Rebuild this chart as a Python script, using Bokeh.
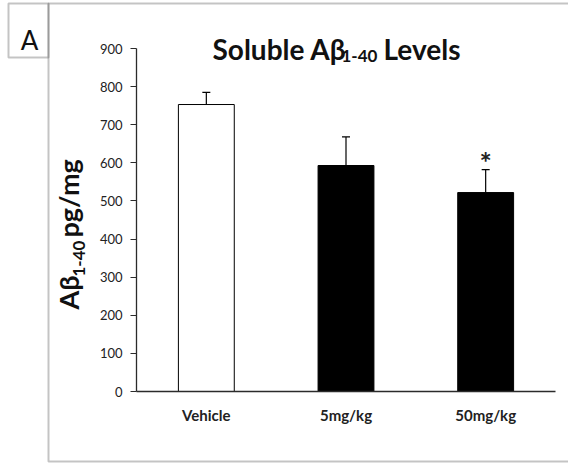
import math
from bokeh.plotting import figure
from bokeh.models import (ColumnDataSource, Whisker, Label, PolyAnnotation,
                          FixedTicker, Range1d)
from bokeh.embed import file_html
from bokeh.resources import INLINE

# --- data -------------------------------------------------------------
groups = ["Vehicle", "5mg/kg", "50mg/kg"]
means = [753, 593, 522]
sem = [32, 75, 60]
fills = ["white", "black", "black"]
y_ticks = [0, 100, 200, 300, 400, 500, 600, 700, 800, 900]
significant = ["50mg/kg"]

W, H = 568, 463
# canvas pixels of the plotting area (axes drawn at fixed locations)
AX_L, AX_R, AX_T, AX_B = 136, 555, 48, 391
YMAX = 900

ppx = (AX_R - AX_L) / len(groups)       # pixels per group slot
ppy = (AX_B - AX_T) / YMAX              # pixels per unit

x_range = Range1d(-AX_L / ppx, (W - AX_L) / ppx)
y_range = Range1d(-(H - AX_B) / ppy, YMAX + AX_T / ppy)

p = figure(width=W, height=H, x_range=x_range, y_range=y_range,
           output_backend="svg", toolbar_location=None,
           min_border=0, min_border_left=0, min_border_right=0,
           min_border_top=0, min_border_bottom=0)
p.outline_line_color = None
p.xgrid.visible = False
p.ygrid.visible = False
p.background_fill_color = "white"
p.border_fill_color = "white"

FONT = "Lato"
AX = "#2b2b2b"

def dx(px):
    return (px - AX_L) / ppx
def dy(py):
    return (AX_B - py) / ppy

xs = [i + 0.5 for i in range(len(groups))]
src = ColumnDataSource(dict(x=xs, m=means, up=[a + b for a, b in zip(means, sem)],
                            fill=fills))

p.vbar(x="x", top="m", bottom=0, width=0.4, source=src, fill_color="fill",
       line_color="black", line_width=1)

wh = Whisker(base="x", upper="up", lower="m", source=src, line_color="black",
             line_width=1.2, lower_head=None)
wh.upper_head.size = 8
wh.upper_head.line_color = "black"
wh.upper_head.line_width = 1.2
p.add_layout(wh)

for g, x, u in zip(groups, xs, src.data["up"]):
    if g in significant:
        p.add_layout(Label(x=x, y=u, text="*", text_font=FONT,
                           text_font_style="bold", text_font_size="29px",
                           text_align="center", text_baseline="bottom",
                           y_offset=-9, text_color="#222"))

# axes, pinned at the origin
p.yaxis.fixed_location = 0
p.yaxis.bounds = (0, YMAX)
p.yaxis.ticker = FixedTicker(ticks=y_ticks)
p.yaxis.minor_tick_line_color = None
p.yaxis.major_tick_out = 6
p.yaxis.major_tick_in = 0
p.yaxis.axis_line_color = AX
p.yaxis.major_tick_line_color = AX
p.yaxis.axis_line_width = 1.3
p.yaxis.major_label_text_font = FONT
p.yaxis.major_label_text_font_size = "13px"
p.yaxis.major_label_text_color = "#222"
p.yaxis.major_label_standoff = 8

p.xaxis.fixed_location = 0
p.xaxis.bounds = (0, len(groups))
p.xaxis.ticker = FixedTicker(ticks=xs)
p.xaxis.major_label_overrides = {x: g for x, g in zip(xs, groups)}
p.xaxis.axis_line_color = AX
p.xaxis.axis_line_width = 1.3
p.xaxis.major_tick_line_color = None
p.xaxis.minor_tick_line_color = None
p.xaxis.major_label_text_font = FONT
p.xaxis.major_label_text_font_style = "bold"
p.xaxis.major_label_text_font_size = "15px"
p.xaxis.major_label_text_color = "#222"
p.xaxis.major_label_standoff = 8

def lab(text, px, py, size, angle=0.0, baseline="alphabetic", align="left", style="bold"):
    p.add_layout(Label(x=dx(px), y=dy(py), text=text, text_font=FONT,
                       text_font_style=style, text_font_size=size,
                       text_color="#111", angle=angle, text_align=align,
                       text_baseline=baseline))

# title: Soluble Aβ(1-40) Levels
lab("Soluble A\u03b2", 212, 48, "28px")
lab("1-40", 341, 55, "17px")
lab("Levels", 383, 48, "28px")

# y-axis title: Aβ(1-40) pg/mg, reading upward
rot = math.pi / 2
lab("A\u03b2", 68, 309, "27px", angle=rot)
lab("1-40", 78, 276, "17px", angle=rot)
lab("pg/mg", 68, 237, "27px", angle=rot)

# panel letter and frame
lab("A", 29, 39, "26px", align="center", style="normal")
frame_col = "#3c3c3c"
p.add_layout(PolyAnnotation(xs=[dx(48), dx(575), dx(575), dx(48)],
                            ys=[dy(3), dy(3), dy(461), dy(461)],
                            fill_alpha=0, line_color=frame_col, line_width=2))
p.add_layout(PolyAnnotation(xs=[dx(8), dx(48), dx(48), dx(8)],
                            ys=[dy(3), dy(3), dy(57), dy(57)],
                            fill_alpha=0, line_color=frame_col, line_width=2))

open("out.html", "w").write(file_html(p, INLINE))
